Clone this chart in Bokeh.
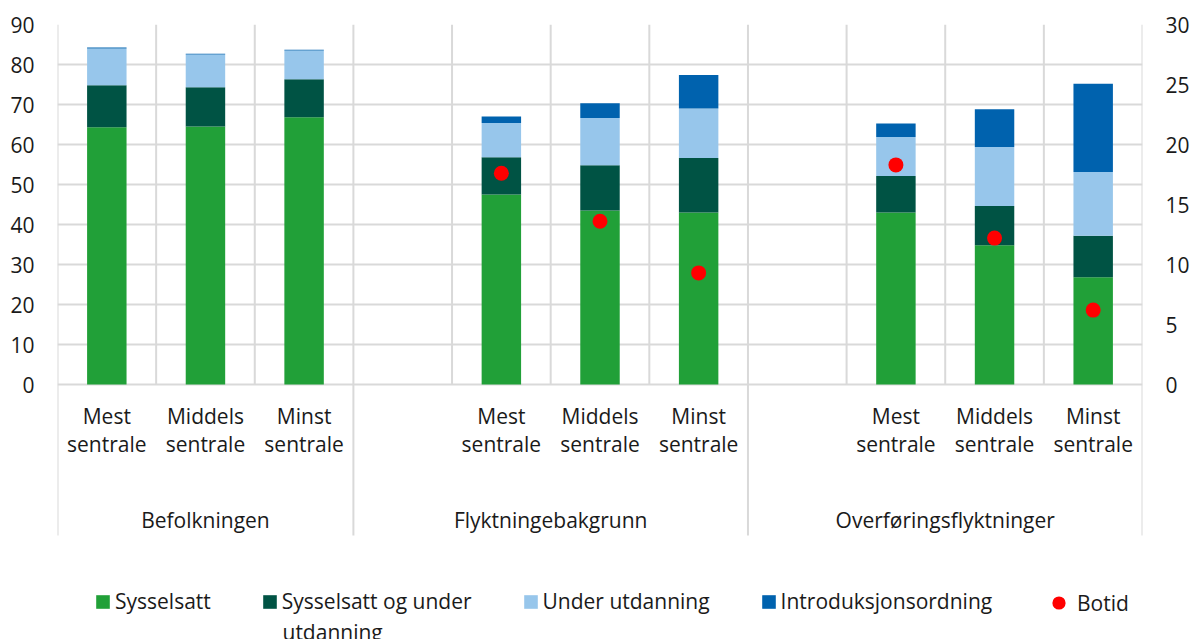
from bokeh.plotting import figure
from bokeh.models import (Range1d, LinearAxis, FixedTicker, Legend, LegendItem,
                          ColumnDataSource, Label)
from bokeh.core.properties import value
from bokeh.embed import file_html
from bokeh.resources import INLINE

# ---------------- data ----------------
groups = ["Befolkningen", "Flyktningebakgrunn", "Overføringsflyktninger"]
centrality_line1 = ["Mest", "Middels", "Minst"]
centrality_line2 = ["sentrale", "sentrale", "sentrale"]
series_names = ["Sysselsatt", "Sysselsatt og under", "Under utdanning",
                "Introduksjonsordning"]
series_name_wrap = "utdanning"          # second line of the 2nd legend label
botid_name = "Botid"

sysselsatt = [64.3, 64.5, 66.8, 47.5, 43.5, 43.0, 43.0, 34.8, 26.8]
sysselsatt_og_utd = [10.5, 9.8, 9.5, 9.3, 11.3, 13.6, 9.1, 9.8, 10.4]
under_utdanning = [9.2, 8.2, 7.2, 8.6, 11.8, 12.4, 9.8, 14.8, 15.9]
introduksjon = [0.25, 0.2, 0.2, 1.6, 3.7, 8.4, 3.35, 9.4, 22.1]
botid = [float("nan"), float("nan"), float("nan"), 17.6, 13.6, 9.3, 18.3, 12.2, 6.2]

left_ticks = [0, 10, 20, 30, 40, 50, 60, 70, 80, 90]
right_ticks = [0, 5, 10, 15, 20, 25, 30]

# ---------------- styles ----------------
colors = ["#21A038", "#005344", "#97C6EB", "#0062AE"]
dot_color = "#FF0000"
grid_color = "#D9D9D9"
text_color = "#1A1A1A"
FONT = "Open Sans"
FS = "21px"

# ---------------- layout of category slots ----------------
# group 1 uses 3 slots, groups 2 and 3 have one empty slot in front
group_sizes = [3, 4, 4]
group_starts = [sum(group_sizes[:i]) for i in range(len(group_sizes))]
n_slots = sum(group_sizes)
x_pos = []
for gs, size in zip(group_starts, group_sizes):
    for j in range(3):
        x_pos.append(gs + (size - 3) + j + 0.5)
group_centers = [gs + size / 2 for gs, size in zip(group_starts, group_sizes)]
separators = group_starts + [n_slots]

# pixel geometry: 4 px per left-axis unit, 12 px per right-axis unit
W, H = 1192, 639
left_border, right_border, top_border = 57, W - 1143, 24
y_top = 90
px_per_unit = 4.0
frame_h = H - top_border
y_bottom = y_top - frame_h / px_per_unit
sep_bottom = -(535 - 384) / px_per_unit

p = figure(width=W, height=H, output_backend="svg", toolbar_location=None,
           x_range=Range1d(0, n_slots), y_range=Range1d(y_bottom, y_top),
           min_border_left=left_border, min_border_right=right_border,
           min_border_top=top_border, min_border_bottom=0)
p.outline_line_color = None
p.background_fill_color = "white"
p.border_fill_color = "white"
p.xaxis.visible = False
p.xgrid.visible = False
p.ygrid.ticker = FixedTicker(ticks=left_ticks)
p.ygrid.grid_line_color = grid_color
p.ygrid.grid_line_width = 2

p.extra_y_ranges = {"right": Range1d(y_bottom / 3, y_top / 3)}

# vertical grid lines
inner = [i for i in range(n_slots + 1) if i not in separators]
p.segment(x0=inner, x1=inner, y0=[0] * len(inner), y1=[y_top] * len(inner),
          line_color=grid_color, line_width=2)
p.segment(x0=separators, x1=separators, y0=[sep_bottom] * len(separators),
          y1=[y_top] * len(separators), line_color=grid_color, line_width=2)

src = ColumnDataSource(dict(x=x_pos, s1=sysselsatt, s2=sysselsatt_og_utd,
                            s3=under_utdanning, s4=introduksjon, botid=botid))
bars = p.vbar_stack(["s1", "s2", "s3", "s4"], x="x", width=0.4, source=src,
                    color=colors, line_color=None)
dots = p.scatter(x="x", y="botid", source=src, y_range_name="right", size=15,
                 fill_color=dot_color, line_color=None)

# axes
p.yaxis[0].ticker = FixedTicker(ticks=left_ticks)
right_axis = LinearAxis(y_range_name="right", ticker=FixedTicker(ticks=right_ticks))
p.add_layout(right_axis, "right")
for ax in (p.yaxis[0], right_axis):
    ax.axis_line_color = None
    ax.major_tick_line_color = None
    ax.minor_tick_line_color = None
    ax.major_tick_out = 0
    ax.major_tick_in = 0
    ax.major_label_standoff = 23
    ax.major_label_text_font = FONT
    ax.major_label_text_font_size = FS
    ax.major_label_text_color = text_color

# category labels
l1 = [centrality_line1[i % 3] for i in range(len(x_pos))]
l2 = [centrality_line2[i % 3] for i in range(len(x_pos))]
common = dict(text_font=value(FONT), text_font_size=value(FS), text_color=text_color,
              text_align="center", text_baseline="alphabetic")
p.text(x=x_pos, y=[-7.75] * len(x_pos), text=l1, **common)
p.text(x=x_pos, y=[-14.9] * len(x_pos), text=l2, **common)
p.text(x=group_centers, y=[-33.9] * len(groups), text=groups, **common)

# legends
leg_style = dict(orientation="horizontal", padding=0, margin=0, border_line_color=None,
                 background_fill_alpha=0, label_text_font=FONT, label_text_font_size=FS,
                 label_text_color=text_color)
items = [LegendItem(label=n, renderers=[r]) for n, r in zip(series_names, bars)]
legend = Legend(items=items, location=(37, 24), glyph_width=17, glyph_height=17,
                label_standoff=4, spacing=50, **leg_style)
p.add_layout(legend, "center")
legend2 = Legend(items=[LegendItem(label=botid_name, renderers=[dots])],
                 location=(985, 20), glyph_width=33, glyph_height=33,
                 label_standoff=2, **leg_style)
p.add_layout(legend2, "center")
p.add_layout(Label(x=225, y=8, x_units="screen", y_units="screen", text=series_name_wrap,
                   text_font=FONT, text_font_size=FS, text_color=text_color,
                   text_baseline="alphabetic"))

open("out.html", "w").write(file_html(p, INLINE))
